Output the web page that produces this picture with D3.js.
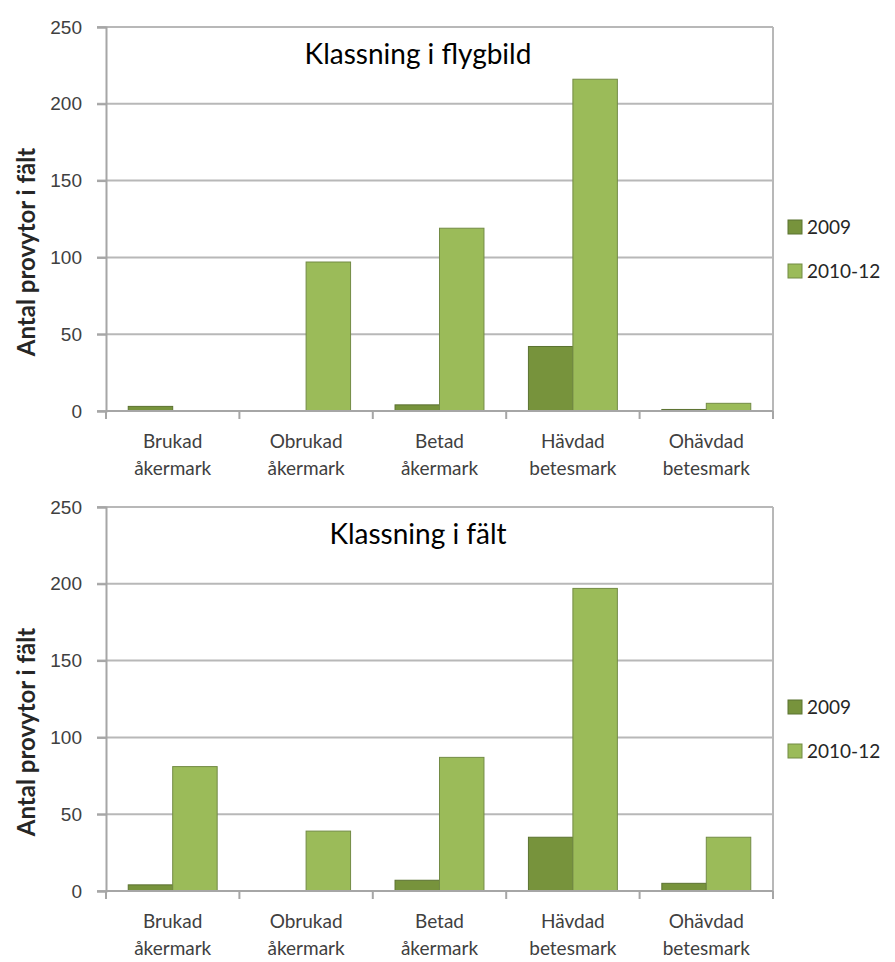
<script src="https://d3js.org/d3.v7.min.js"></script>

<style>
body{
  margin:0;
  background:#ffffff;
}
svg{
  font-family: Lato, "Noto Sans", sans-serif;
  color:#404040;
}
</style>

<div id="my_dataviz"></div>

<script>
// categories and series
let categories = [["Brukad","åkermark"],["Obrukad","åkermark"],["Betad","åkermark"],["Hävdad","betesmark"],["Ohävdad","betesmark"]];
let seriesNames = ["2009","2010-12"];
let yTicks = [0,50,100,150,200,250];

// top chart: Klassning i flygbild
let flyg2009 = [3, 0, 4, 42, 1];
let flyg2010 = [0, 97, 119, 216, 5];
// bottom chart: Klassning i fält
let falt2009 = [4, 0, 7, 35, 5];
let falt2010 = [81, 39, 87, 197, 35];

let colors = {"2009":"#77933c", "2010-12":"#9bbb59"};
let strokes = {"2009":"#5b7230", "2010-12":"#738b45"};

let width = 895, height = 962;

let svg = d3.select("#my_dataviz")
  .append("svg")
    .attr("width", width)
    .attr("height", height)
    .attr("viewBox", "0 0 " + width + " " + height);

drawChart(0, "Klassning i flygbild", flyg2009, flyg2010);
drawChart(480, "Klassning i fält", falt2009, falt2010);

function drawChart(offsetY, title, s2009, s2010){
  let left = 106, right = 773, top = 27, bottom = 411;
  let g = svg.append("g").attr("transform", "translate(0," + offsetY + ")");

  let data = categories.map(function(c, i){
    return {cat: c.join(" "), label: c, values: [
      {name: "2009", value: s2009[i]},
      {name: "2010-12", value: s2010[i]}
    ]};
  });

  let x0 = d3.scaleBand()
    .domain(data.map(function(d){return d.cat}))
    .range([left, right])
    .padding(0);
  let x1 = d3.scaleBand()
    .domain(seriesNames)
    .range([0, x0.bandwidth()])
    .paddingInner(0)
    .paddingOuter(0.5);
  let y = d3.scaleLinear()
    .domain([0, 250])
    .range([bottom, top]);

  // gridlines
  g.append("g")
    .selectAll("line")
    .data(yTicks)
    .enter().append("line")
      .attr("x1", left - 9)
      .attr("x2", right)
      .attr("y1", function(d){return y(d)})
      .attr("y2", function(d){return y(d)})
      .attr("stroke", "#b8b8b8")
      .attr("stroke-width", 2);

  // right border of plot area
  g.append("line")
    .attr("x1", right).attr("x2", right)
    .attr("y1", top).attr("y2", bottom)
    .attr("stroke", "#b8b8b8")
    .attr("stroke-width", 2);

  // y axis
  let yAxis = g.append("g")
    .attr("transform", "translate(" + left + ",0)")
    .call(d3.axisLeft(y).tickValues(yTicks).tickSize(9).tickPadding(15));
  yAxis.select(".domain").attr("stroke", "#a6a6a6").attr("stroke-width", 2);
  yAxis.selectAll(".tick line").attr("stroke", "#a6a6a6").attr("stroke-width", 2);
  yAxis.selectAll(".tick text")
    .attr("font-size", 19)
    .attr("fill", "#404040");

  // bars
  g.append("g")
    .selectAll("g")
    .data(data)
    .enter().append("g")
      .attr("transform", function(d){return "translate(" + x0(d.cat) + ",0)"})
    .selectAll("rect")
    .data(function(d){return d.values})
    .enter().append("rect")
      .attr("x", function(d){return x1(d.name)})
      .attr("width", x1.bandwidth())
      .attr("y", function(d){return y(d.value)})
      .attr("height", function(d){return y(0) - y(d.value)})
      .attr("fill", function(d){return colors[d.name]})
      .attr("stroke", function(d){return strokes[d.name]})
      .attr("stroke-width", 1);

  // x axis
  let xAxis = g.append("g")
    .attr("transform", "translate(0," + bottom + ")");
  xAxis.append("line")
    .attr("x1", left).attr("x2", right)
    .attr("stroke", "#a6a6a6").attr("stroke-width", 2);
  xAxis.selectAll(".xtick")
    .data(d3.range(categories.length + 1))
    .enter().append("line")
      .attr("x1", function(i){return left + i * x0.step()})
      .attr("x2", function(i){return left + i * x0.step()})
      .attr("y1", 0).attr("y2", 8)
      .attr("stroke", "#a6a6a6").attr("stroke-width", 2);
  let labels = xAxis.selectAll(".xlabel")
    .data(data)
    .enter().append("text")
      .attr("text-anchor", "middle")
      .attr("font-size", 19)
      .attr("fill", "#404040")
      .attr("x", function(d){return x0(d.cat) + x0.bandwidth() / 2});
  labels.append("tspan")
    .attr("x", function(d){return x0(d.cat) + x0.bandwidth() / 2})
    .attr("y", 37)
    .text(function(d){return d.label[0]});
  labels.append("tspan")
    .attr("x", function(d){return x0(d.cat) + x0.bandwidth() / 2})
    .attr("y", 64)
    .text(function(d){return d.label[1]});

  // title
  g.append("text")
    .attr("x", 418)
    .attr("y", 64)
    .attr("text-anchor", "middle")
    .attr("font-size", 28)
    .attr("fill", "#000000")
    .text(title);

  // y axis title
  g.append("text")
    .attr("transform", "translate(35,252) rotate(-90)")
    .attr("text-anchor", "middle")
    .attr("font-size", 24)
    .attr("font-weight", "bold")
    .attr("fill", "#262626")
    .text("Antal provytor i fält");

  // legend
  let legend = g.append("g")
    .selectAll("g")
    .data(seriesNames)
    .enter().append("g")
      .attr("transform", function(d, i){return "translate(788," + (227 + i * 44) + ")"});
  legend.append("rect")
    .attr("x", 0).attr("y", -7)
    .attr("width", 14).attr("height", 14)
    .attr("fill", function(d){return colors[d]})
    .attr("stroke", function(d){return strokes[d]});
  legend.append("text")
    .attr("x", 19)
    .attr("y", 7)
    .attr("font-size", 19)
    .attr("fill", "#262626")
    .text(function(d){return d});
}
</script>
